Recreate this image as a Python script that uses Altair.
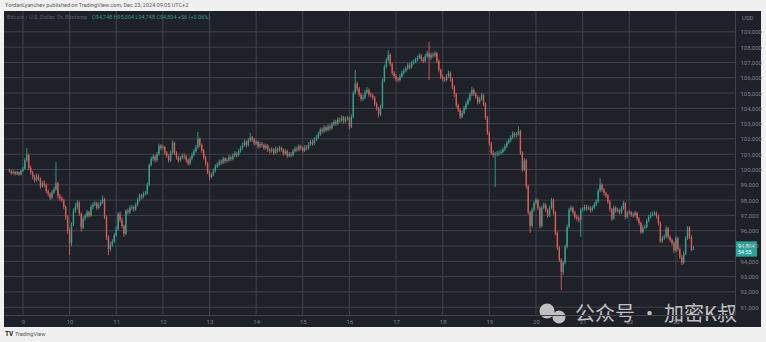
import altair as alt
import pandas as pd

# ---------------- data ----------------
start_time = "2024-12-08 17:00"     # first hourly candle (UTC+2 chart time)
first_open = 99950

closes = [
    99900, 99750, 99850, 99700, 99820, 99680, 99900, 100050, 100600, 100950,
    100100, 99800, 99500, 99300, 99550, 99400, 98900, 99100, 99000, 98600,
    98400, 98150, 98500, 98700, 99100, 98250, 98100, 98000, 97550, 96900,
    96050, 95200, 96400, 97300, 97550, 97850, 97100, 96200, 96800, 96950,
    97200, 97000, 97550, 97700, 97800, 97500, 97700, 97850, 98050, 96900,
    95600, 94800, 95100, 95300, 95700, 96100, 97100, 96700, 96300, 95800,
    97300, 97200, 97500, 97550, 97400, 97700, 98000, 98300, 98200, 98400,
    98450, 99000, 100300, 100700, 100850, 100600, 101000, 101550, 101400, 101450,
    101100, 100900, 100600, 101100, 101750, 101100, 100800, 100600, 100750, 100900,
    100850, 100600, 100400, 100700, 100950, 101200, 101450, 102000, 101600, 101250,
    100800, 100400, 99850, 99500, 99650, 99900, 100200, 100300, 100500, 100450,
    100700, 100550, 100600, 100800, 100700, 100900, 101050, 100950, 101200, 101400,
    101600, 101800, 101600, 101900, 102100, 101950, 101700, 101800, 101500, 101650,
    101600, 101400, 101550, 101300, 101200, 101300, 101100, 101350, 101250, 101400,
    101300, 101050, 101200, 100900, 101000, 100950, 101200, 101350, 101300, 101500,
    101400, 101250, 101450, 101400, 101650, 101800, 101700, 101950, 102100, 102300,
    102600, 102500, 102750, 102600, 102800, 102700, 102950, 103100, 103000, 103250,
    103200, 103400, 103150, 103300, 103350, 102800, 103450, 105000, 105600, 105300,
    104900, 104600, 104700, 105050, 105200, 104900, 104850, 104700, 104300, 104000,
    103600, 104100, 105800, 106700, 107150, 107500, 106900, 106300, 106100, 105900,
    105850, 106100, 106300, 106450, 106600, 106800, 106700, 106950, 107050, 107150,
    107300, 107450, 107200, 107100, 107400, 107600, 107300, 107500, 107450, 107600,
    107100, 106500, 106050, 105900, 105850, 106100, 106300, 105900, 105400, 104900,
    104200, 103900, 103450, 103700, 104000, 104300, 104550, 104900, 105200, 104950,
    104750, 104400, 104600, 104850, 104300, 103400, 102400, 101700, 101100, 100950,
    101000, 101050, 101100, 101150, 101300, 101500, 101750, 101900, 102100, 102350,
    102250, 102300, 102500, 101100, 100000, 100600, 98900, 97200, 96300, 97350,
    97800, 98000, 97500, 96300, 97500, 97700, 97350, 97000, 97500, 98000,
    97200, 95850, 94900, 94100, 93300, 93900, 94950, 96250, 97350, 97500,
    97200, 96900, 96800, 96700, 97350, 97400, 97550, 97450, 97500, 97350,
    97500, 97700, 97900, 98600, 99000, 98700, 98450, 98300, 97900, 97400,
    96800, 97500, 97300, 97350, 97200, 97450, 97800, 96900, 97150, 97200,
    97050, 97000, 97150, 96800, 96500, 95900, 96200, 96250, 96650, 96900,
    97050, 97100, 97150, 96950, 96500, 95300, 95500, 95600, 96150, 95600,
    95400, 95200, 94700, 95500, 94800, 94300, 93900, 94500, 95500, 96200,
    95600, 94748, 94804,
]

highs = [
    100050, 99980, 99950, 99900, 99920, 99880, 99980, 100200, 100750, 101400,
    101050, 100250, 99900, 99650, 99750, 99700, 99500, 99250, 99300, 99100,
    98700, 98500, 98650, 98850, 100490, 99200, 98400, 98250, 98100, 97650,
    97000, 96200, 96550, 97450, 97800, 98000, 97950, 97200, 96950, 97100,
    97350, 97300, 97700, 97850, 97950, 97900, 97850, 98000, 98300, 98150,
    97000, 95700, 95300, 95450, 95850, 96300, 97200, 97250, 96850, 96400,
    97400, 97450, 97650, 97700, 97650, 97850, 98150, 98450, 98400, 98550,
    98600, 99150, 100400, 100850, 101000, 100950, 101150, 101700, 101650, 101600,
    101550, 101200, 101000, 101250, 101900, 101800, 101200, 100900, 100900, 101050,
    101050, 100950, 100700, 100850, 101100, 101350, 101600, 102450, 102100, 101700,
    101350, 100900, 100500, 99950, 99800, 100050, 100350, 100450, 100650, 100650,
    100850, 100800, 100750, 100950, 100900, 101050, 101200, 101150, 101350, 101550,
    101750, 101950, 101900, 102050, 102400, 102200, 102050, 101950, 101900, 101800,
    101800, 101700, 101700, 101650, 101400, 101450, 101400, 101500, 101450, 101550,
    101500, 101400, 101350, 101300, 101150, 101150, 101350, 101500, 101500, 101650,
    101600, 101500, 101600, 101600, 101800, 101950, 101950, 102100, 102250, 102450,
    102750, 102750, 102900, 102850, 102950, 102950, 103100, 103250, 103250, 103400,
    103400, 103550, 103500, 103450, 103500, 103450, 103600, 105150, 106500, 105750,
    105400, 105000, 104900, 105200, 105400, 105300, 105050, 104950, 104800, 104400,
    104100, 104250, 105950, 106850, 107300, 107800, 107600, 107000, 106450, 106250,
    106050, 106250, 106450, 106600, 106750, 106950, 106950, 107100, 107200, 107300,
    107450, 107600, 107550, 107350, 107550, 107750, 108350, 107650, 107650, 107750,
    107700, 107200, 106600, 106200, 106050, 106250, 106450, 106400, 106000, 105500,
    105000, 104300, 104000, 103850, 104150, 104450, 104700, 105050, 105400, 105300,
    105050, 104850, 104750, 105000, 104950, 104400, 103500, 102500, 101800, 101250,
    101150, 101200, 101250, 101300, 101450, 101650, 101900, 102050, 102250, 102500,
    102450, 102450, 102800, 102600, 101200, 100750, 100700, 99000, 97300, 97500,
    97950, 98150, 98100, 97600, 97650, 97850, 97800, 97450, 97650, 98150,
    98100, 97300, 95950, 95000, 94200, 94050, 95100, 96400, 97500, 97650,
    97600, 97300, 97050, 96950, 97500, 97550, 97700, 97700, 97650, 97600,
    97650, 97850, 98050, 98750, 99440, 99100, 98800, 98550, 98400, 98000,
    97500, 97650, 97600, 97500, 97450, 97600, 97950, 97900, 97300, 97350,
    97300, 97200, 97300, 97250, 96900, 96600, 96350, 96400, 96800, 97050,
    97200, 97250, 97300, 97250, 97050, 96600, 95650, 95750, 96300, 96250,
    95700, 95500, 95300, 95650, 95600, 94900, 94400, 94650, 95650, 96300,
    96300, 95700, 95004,
]

lows = [
    99800, 99650, 99680, 99600, 99640, 99580, 99620, 99850, 100000, 100500,
    99950, 99650, 99350, 99150, 99200, 99250, 98750, 98800, 98850, 98450,
    98250, 98000, 98050, 98400, 98600, 98100, 97950, 97850, 97400, 96700,
    95800, 94400, 95000, 96300, 97150, 97400, 96950, 95950, 96100, 96650,
    96850, 96850, 96900, 97400, 97600, 97350, 97400, 97600, 97750, 96750,
    95400, 94400, 94650, 94950, 95200, 95600, 96000, 96550, 96150, 95600,
    95700, 97050, 97100, 97350, 97250, 97300, 97600, 97900, 98050, 98100,
    98300, 98350, 98900, 100200, 100550, 100450, 100500, 100900, 101250, 101300,
    100950, 100750, 100450, 100500, 101000, 100950, 100650, 100450, 100500, 100650,
    100700, 100450, 100250, 100300, 100600, 100850, 101100, 101350, 101450, 101100,
    100650, 100250, 99700, 99300, 99400, 99550, 99800, 100100, 100200, 100300,
    100350, 100400, 100450, 100500, 100550, 100600, 100800, 100800, 100850, 101100,
    101300, 101500, 101450, 101500, 101800, 101800, 101550, 101600, 101350, 101400,
    101450, 101250, 101300, 101150, 101050, 101100, 100950, 101000, 101100, 101150,
    101150, 100900, 100950, 100750, 100800, 100800, 100850, 101100, 101150, 101200,
    101250, 101100, 101150, 101250, 101300, 101550, 101550, 101600, 101850, 102000,
    102200, 102350, 102400, 102450, 102500, 102550, 102600, 102850, 102850, 102900,
    103050, 103100, 103000, 103050, 103200, 102600, 102700, 103350, 104900, 105100,
    104750, 104450, 104500, 104600, 104950, 104750, 104700, 104550, 104150, 103850,
    103400, 103500, 104000, 105700, 106600, 107050, 106750, 106150, 105950, 105750,
    105700, 105750, 106000, 106200, 106350, 106500, 106550, 106600, 106850, 106950,
    107050, 107200, 107050, 106950, 107000, 107300, 105850, 107150, 107300, 107350,
    106950, 106350, 105900, 105750, 105700, 105750, 106000, 105750, 105250, 104750,
    104050, 103750, 103300, 103350, 103600, 103900, 104200, 104450, 104800, 104800,
    104600, 104250, 104300, 104500, 104150, 103250, 102250, 101550, 100950, 100800,
    98850, 100850, 100900, 100950, 101050, 101200, 101400, 101650, 101800, 102000,
    102100, 102100, 102200, 100950, 99850, 99900, 98750, 97050, 95850, 96200,
    97250, 97700, 97350, 96150, 96200, 97400, 97200, 96850, 96900, 97400,
    97050, 95700, 94750, 93950, 92120, 93100, 93800, 94850, 96150, 97250,
    97050, 96750, 96650, 96550, 95600, 97250, 97300, 97300, 97350, 97200,
    97250, 97400, 97600, 97800, 98500, 98550, 98300, 98150, 97750, 97250,
    96650, 96700, 97150, 97200, 97050, 97100, 97350, 96750, 96800, 97050,
    96900, 96850, 96900, 96650, 96350, 95800, 95800, 96100, 96150, 96550,
    96800, 96950, 97000, 96800, 96350, 95200, 95200, 95400, 95500, 95450,
    95250, 95050, 94540, 94600, 94650, 94150, 93750, 93800, 94400, 95400,
    95450, 94650, 94748,
]

price_ticks = [91000, 92000, 93000, 94000, 95000, 96000, 97000, 98000, 99000,
               100000, 101000, 102000, 103000, 104000, 105000, 106000, 107000,
               108000, 109000]
day_ticks = [9, 10, 11, 12, 13, 14, 15, 16, 17, 18, 19, 20, 21, 22, 23]

last_price = 94804
last_price_text = "94,804"
countdown_text = "54:55"
author_text = "YordanLyanchev published on TradingView.com, Dec 23, 2024 09:05 UTC+2"
symbol_text = "Bitcoin / U.S. Dollar, 1h, Bitstamp"
ohlc_text = "O94,748  H95,004  L94,748  C94,804  +56 (+0.06%)"
watermark_text = "公众号 · 加密K叔"

# ---------------- styling ----------------
PAGE_BG = "#f0f0f0"
PANEL_BG = "#1f2129"
GRID = "#3f424c"
TXT = "#7d808a"
UP = "#35a08f"
DOWN = "#dc5a58"
FONT = "Roboto"

W, H = 731, 304

times = pd.date_range(start_time, periods=len(closes), freq="h")
opens = [first_open] + closes[:-1]
df = pd.DataFrame({
    "t": times.strftime("%Y-%m-%dT%H:%M:%SZ"),
    "open": opens,
    "close": closes,
    "high": [max(h, o, c) for h, o, c in zip(highs, opens, closes)],
    "low": [min(l, o, c) for l, o, c in zip(lows, opens, closes)],
})

days_df = pd.DataFrame({"d": [f"2024-12-{d:02d}T00:00:00Z" for d in day_ticks]})
prices_df = pd.DataFrame({"p": price_ticks})
box_df = pd.DataFrame({"top": [last_price + 500], "bot": [last_price - 500],
                       "mid": [last_price]})

xscale = alt.Scale(
    type="utc",
    domain=[alt.DateTime(year=2024, month=12, date=8, hours=16, minutes=50, utc=True),
            alt.DateTime(year=2024, month=12, date=24, hours=3, minutes=50, utc=True)],
)
yscale = alt.Scale(domain=[90490, 110360], zero=False, nice=False)

xaxis = alt.Axis(
    title=None, grid=False, ticks=False, domain=True, domainColor=GRID,
    values=[alt.DateTime(year=2024, month=12, date=d, utc=True) for d in day_ticks],
    labelExpr="utcFormat(datum.value, '%-d')", labelColor=TXT, labelFontSize=6,
    labelFont=FONT, labelPadding=3, zindex=1, labelOverlap=False,
)
yaxis = alt.Axis(
    title=None, grid=False, ticks=False, domain=True, domainColor=GRID,
    orient="right", values=price_ticks, labelExpr="format(datum.value, ',')",
    labelColor=TXT, labelFontSize=6, labelFont=FONT, labelPadding=5, zindex=1,
    labelOverlap=False,
)

one = pd.DataFrame({"a": [0]})

panel = alt.Chart(one).mark_rect(color=PANEL_BG).encode(
    x=alt.value(0), x2=alt.value(757), y=alt.value(0), y2=alt.value(316)
)

hgrid = alt.Chart(prices_df).mark_rule(color=GRID, strokeWidth=1).encode(
    y=alt.Y("p:Q", scale=yscale, axis=yaxis)
)
vgrid = alt.Chart(days_df).mark_rule(color=GRID, strokeWidth=1).encode(
    x=alt.X("d:T", scale=xscale, axis=xaxis)
)

color = alt.condition("datum.close >= datum.open", alt.value(UP), alt.value(DOWN))

wicks = alt.Chart(df).mark_rule(strokeWidth=0.9).encode(
    x=alt.X("t:T", scale=xscale, axis=xaxis),
    y=alt.Y("low:Q", scale=yscale, axis=yaxis),
    y2="high:Q",
    color=color,
)
bodies = alt.Chart(df).mark_bar(size=1.4).encode(
    x=alt.X("t:T", scale=xscale, axis=xaxis),
    y=alt.Y("open:Q", scale=yscale, axis=yaxis),
    y2="close:Q",
    color=color,
)

label_box = alt.Chart(box_df).mark_rect(color="#26a69a").encode(
    x=alt.value(732), x2=alt.value(753),
    y=alt.Y("top:Q", scale=yscale, axis=yaxis),
    y2="bot:Q",
)
label_txt1 = alt.Chart(box_df).mark_text(
    color="white", fontSize=5.5, font=FONT, align="left", baseline="middle", dy=-3
).encode(
    x=alt.value(734),
    y=alt.Y("mid:Q", scale=yscale, axis=yaxis),
    text=alt.value(last_price_text),
)
label_txt2 = alt.Chart(box_df).mark_text(
    color="white", fontSize=5.5, font=FONT, align="left", baseline="middle", dy=3.5
).encode(
    x=alt.value(734),
    y=alt.Y("mid:Q", scale=yscale, axis=yaxis),
    text=alt.value(countdown_text),
)

def txt(text, x, y, color, size, weight="normal", font=FONT, opacity=1.0):
    return alt.Chart(one).mark_text(
        color=color, fontSize=size, font=font, align="left", baseline="middle",
        fontWeight=weight, opacity=opacity,
    ).encode(x=alt.value(x), y=alt.value(y), text=alt.value(text))

def dot(x, y, size):
    return alt.Chart(one).mark_point(
        filled=True, color="#d2d2d2", opacity=0.9, shape="circle"
    ).encode(x=alt.value(x), y=alt.value(y), size=alt.value(size))

author = txt(author_text, 1, -6, "#5a5a5a", 5.5)
symbol = txt(symbol_text, 3, 6, "#5c5f69", 5.5)
ohlc = txt(ohlc_text, 88, 6, "#2f9a86", 5.5)
usd = txt("USD", 738, 7, TXT, 6)
tv_logo = txt("TV", 1, 323, "#222222", 6.5, weight="bold")
tv_name = txt("TradingView", 11, 323, "#555555", 5.5)

icon1 = dot(543, 300, 230)
icon2 = dot(555, 306, 170)
watermark = txt(watermark_text, 571, 304, "#d2d2d2", 20, font="Noto Sans CJK SC", opacity=0.9)

chart = alt.layer(
    panel, hgrid, vgrid, wicks, bodies, label_box, label_txt1, label_txt2,
    author, symbol, ohlc, usd, tv_logo, tv_name, icon1, icon2, watermark,
).properties(
    width=W, height=H,
    autosize=alt.AutoSizeParams(type="none"),
    padding={"left": 4, "top": 11, "right": 31, "bottom": 27},
    background=PAGE_BG,
).configure_view(stroke=None)

chart.save("out.html", embed_options={"renderer": "svg", "actions": False})
